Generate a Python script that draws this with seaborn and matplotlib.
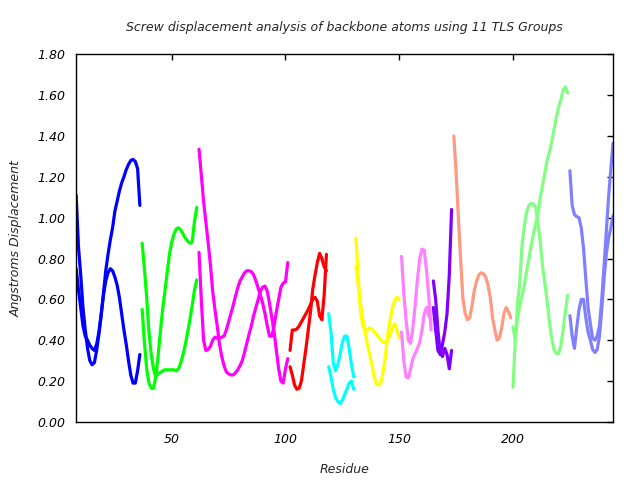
import numpy as np
import matplotlib
matplotlib.use("Agg")
import matplotlib.pyplot as plt
import seaborn as sns

# Valores (residuo inicial + desplazamientos por grupo TLS)
titulo = "Screw displacement analysis of backbone atoms using 11 TLS Groups"
xlabel = "Residue"
ylabel = "Angstroms Displacement"

x_ticks = [50, 100, 150, 200]
y_ticks = [0.0, 0.2, 0.4, 0.6, 0.8, 1.0, 1.2, 1.4, 1.6, 1.8]

# grupo 1 (azul), residuos 8-36
g1_inicio = 8
g1_a = [1.11, 0.86, 0.72, 0.56, 0.45, 0.36, 0.30, 0.28, 0.29, 0.35, 0.43, 0.52, 0.63, 0.74, 0.82,
        0.89, 0.95, 1.03, 1.08, 1.13, 1.17, 1.20, 1.235, 1.26, 1.28, 1.285, 1.275, 1.24, 1.06]
g1_b = [0.75, 0.65, 0.56, 0.47, 0.42, 0.40, 0.375, 0.36, 0.35, 0.38, 0.44, 0.53, 0.62, 0.69, 0.73,
        0.75, 0.74, 0.71, 0.67, 0.61, 0.53, 0.45, 0.38, 0.30, 0.23, 0.19, 0.19, 0.25, 0.33]

# grupo 2 (verde), residuos 37-61
g2_inicio = 37
g2_a = [0.875, 0.75, 0.61, 0.44, 0.33, 0.26, 0.22, 0.24, 0.24, 0.25, 0.255, 0.255, 0.255, 0.255,
        0.255, 0.25, 0.26, 0.29, 0.33, 0.38, 0.44, 0.50, 0.57, 0.645, 0.695]
g2_b = [0.55, 0.39, 0.26, 0.19, 0.165, 0.165, 0.22, 0.32, 0.44, 0.55, 0.64, 0.73, 0.82, 0.88,
        0.92, 0.945, 0.95, 0.94, 0.92, 0.90, 0.885, 0.875, 0.88, 0.98, 1.05]

# grupo 3 (magenta), residuos 62-101
g3_inicio = 62
g3_a = [1.335, 1.21, 1.08, 0.98, 0.88, 0.77, 0.64, 0.55, 0.47, 0.38, 0.32, 0.275, 0.245, 0.235,
        0.23, 0.23, 0.24, 0.255, 0.275, 0.30, 0.34, 0.385, 0.43, 0.47, 0.52, 0.56, 0.60, 0.64,
        0.66, 0.665, 0.64, 0.58, 0.51, 0.44, 0.35, 0.26, 0.20, 0.19, 0.26, 0.31]
g3_b = [0.83, 0.60, 0.40, 0.35, 0.355, 0.37, 0.40, 0.415, 0.41, 0.41, 0.415, 0.42, 0.45, 0.49,
        0.53, 0.57, 0.615, 0.655, 0.69, 0.71, 0.73, 0.74, 0.74, 0.735, 0.72, 0.69, 0.655, 0.62,
        0.58, 0.53, 0.47, 0.42, 0.42, 0.47, 0.54, 0.60, 0.66, 0.68, 0.685, 0.78]

# grupo 4 (rojo), residuos 102-118
g4_inicio = 102
g4_a = [0.35, 0.45, 0.45, 0.455, 0.47, 0.49, 0.51, 0.53, 0.55, 0.575, 0.60, 0.61, 0.59, 0.52,
        0.50, 0.62, 0.82]
g4_b = [0.27, 0.23, 0.18, 0.16, 0.165, 0.20, 0.28, 0.36, 0.45, 0.54, 0.65, 0.72, 0.78, 0.825,
        0.80, 0.76, 0.74]

# grupo 5 (cian), residuos 119-130
g5_inicio = 119
g5_a = [0.53, 0.44, 0.29, 0.25, 0.28, 0.33, 0.39, 0.42, 0.42, 0.36, 0.28, 0.22]
g5_b = [0.27, 0.22, 0.16, 0.12, 0.10, 0.09, 0.105, 0.135, 0.16, 0.19, 0.20, 0.16]

# grupo 6 (amarillo), residuos 131-150
g6_inicio = 131
g6_a = [0.90, 0.70, 0.54, 0.47, 0.45, 0.45, 0.46, 0.455, 0.44, 0.43, 0.415, 0.40, 0.39, 0.39,
        0.40, 0.43, 0.46, 0.48, 0.45, 0.41]
g6_b = [0.76, 0.67, 0.58, 0.50, 0.44, 0.38, 0.33, 0.28, 0.22, 0.185, 0.18, 0.195, 0.25, 0.33,
        0.43, 0.50, 0.56, 0.595, 0.61, 0.60]

# grupo 7 (rosa), residuos 151-164
g7_inicio = 151
g7_a = [0.81, 0.63, 0.50, 0.40, 0.385, 0.46, 0.57, 0.70, 0.80, 0.845, 0.84, 0.74, 0.61, 0.45]
g7_b = [0.44, 0.30, 0.22, 0.215, 0.26, 0.31, 0.335, 0.36, 0.39, 0.45, 0.53, 0.56, 0.52, 0.50]

# grupo 8 (violeta), residuos 165-173
g8_inicio = 165
g8_a = [0.69, 0.60, 0.45, 0.34, 0.32, 0.36, 0.33, 0.26, 0.35]
g8_b = [0.56, 0.45, 0.35, 0.33, 0.38, 0.44, 0.53, 0.72, 1.04]

# grupo 9 (salmon), residuos 174-199
g9_inicio = 174
g9_a = [1.40, 1.22, 1.00, 0.79, 0.60, 0.53, 0.50, 0.51, 0.57, 0.645, 0.69, 0.72, 0.73, 0.725,
        0.71, 0.67, 0.61, 0.51, 0.45, 0.40, 0.41, 0.46, 0.53, 0.56, 0.54, 0.51]

# grupo 10 (verde claro), residuos 200-224
g10_inicio = 200
g10_a = [0.17, 0.40, 0.58, 0.69, 0.87, 0.96, 1.03, 1.06, 1.07, 1.065, 1.05, 0.97, 0.88, 0.76,
         0.68, 0.59, 0.49, 0.41, 0.355, 0.335, 0.335, 0.37, 0.45, 0.54, 0.62]
g10_b = [0.465, 0.40, 0.51, 0.57, 0.62, 0.67, 0.74, 0.80, 0.865, 0.92, 0.97, 1.02, 1.10, 1.16,
         1.22, 1.28, 1.32, 1.37, 1.43, 1.49, 1.54, 1.575, 1.625, 1.64, 1.61]

# grupo 11 (azul claro), residuos 225-244
g11_inicio = 225
g11_a = [1.23, 1.06, 1.015, 1.005, 1.00, 0.95, 0.85, 0.70, 0.56, 0.48, 0.41, 0.40, 0.42, 0.47,
         0.60, 0.76, 0.93, 1.10, 1.24, 1.365]
g11_b = [0.52, 0.42, 0.36, 0.46, 0.55, 0.60, 0.60, 0.51, 0.44, 0.40, 0.355, 0.34, 0.355, 0.42,
         0.55, 0.70, 0.82, 0.90, 0.95, 1.01]

grupos = [
    (g1_inicio, [g1_a, g1_b], "#0000ff"),
    (g2_inicio, [g2_a, g2_b], "#00ff00"),
    (g3_inicio, [g3_a, g3_b], "#ff00ff"),
    (g4_inicio, [g4_a, g4_b], "#ff0000"),
    (g5_inicio, [g5_a, g5_b], "#00ffff"),
    (g6_inicio, [g6_a, g6_b], "#ffff00"),
    (g7_inicio, [g7_a, g7_b], "#ff80ff"),
    (g8_inicio, [g8_a, g8_b], "#8000ff"),
    (g9_inicio, [g9_a], "#ff9980"),
    (g10_inicio, [g10_a, g10_b], "#80ff80"),
    (g11_inicio, [g11_a, g11_b], "#8080ff"),
]

sns.set_style("white")
plt.rcParams["font.family"] = ["DejaVu Sans"]
plt.rcParams["font.style"] = "italic"

fig = plt.figure(figsize=(6.4, 4.8), dpi=100)
ax = fig.add_axes([0.119, 0.121, 0.839, 0.766])

for inicio, curvas, color in grupos:
    for valores in curvas:
        residuos = np.arange(inicio, inicio + len(valores))
        sns.lineplot(x=residuos, y=valores, ax=ax, color=color, linewidth=2.3,
                     estimator=None, sort=False)

ax.set_xlim(8, 244)
ax.set_ylim(0, 1.8)
ax.set_xticks(x_ticks)
ax.set_yticks(y_ticks)
ax.set_yticklabels([f"{v:.2f}" for v in y_ticks])
ax.tick_params(direction="in", length=4, width=1, top=True, right=True,
               labelsize=9, colors="black", pad=8)

for lado in ax.spines.values():
    lado.set_visible(True)
    lado.set_color("black")
    lado.set_linewidth(1)

ax.set_title(titulo, fontsize=9, pad=17)
ax.set_xlabel(xlabel, fontsize=9, labelpad=12)
ax.set_ylabel(ylabel, fontsize=9, labelpad=10)

plt.savefig("out.png", dpi=100)
